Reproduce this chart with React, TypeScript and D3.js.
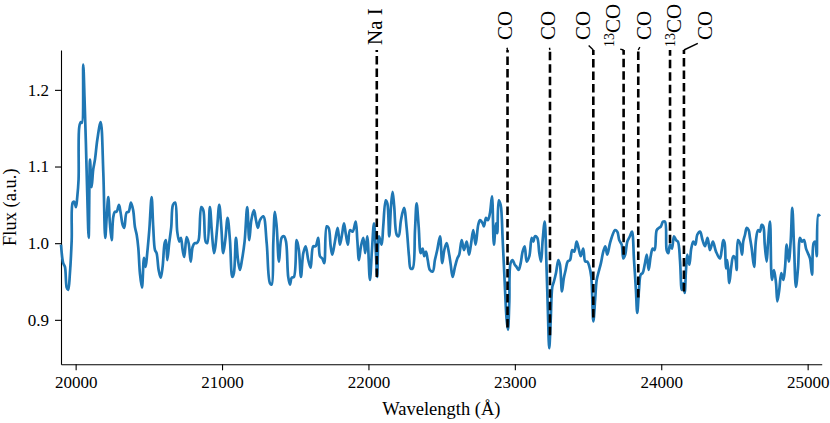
import React, { useEffect, useRef } from 'react';
import * as d3 from 'd3';

// Spectrum: [wavelength (Å), normalised flux]
const spectrum: [number, number][] = [
  [19900, 0.998], [19915, 0.974], [19927, 0.969], [19939, 0.942], [19949, 0.939], [19961, 0.961],
  [19973, 1.004], [19980, 1.053], [19990, 1.054], [20002, 1.047], [20011, 1.060], [20020, 1.083],
  [20025, 1.152], [20036, 1.158], [20043, 1.157], [20052, 1.233], [20061, 1.187], [20070, 1.131],
  [20079, 1.066], [20089, 1.007], [20098, 1.109], [20109, 1.073], [20120, 1.096], [20132, 1.109],
  [20148, 1.135], [20171, 1.158], [20189, 1.092], [20202, 1.007], [20212, 1.034], [20223, 1.060],
  [20234, 1.026], [20246, 1.004], [20257, 1.034], [20268, 1.041], [20280, 1.041], [20296, 1.050],
  [20307, 1.040], [20321, 1.024], [20332, 1.020], [20348, 1.040], [20362, 1.041], [20378, 1.053],
  [20393, 1.043], [20405, 1.021], [20417, 1.011], [20428, 0.994], [20439, 0.961], [20453, 0.942],
  [20467, 0.981], [20478, 0.969], [20489, 0.987], [20503, 1.017], [20519, 1.060], [20530, 1.021],
  [20542, 0.991], [20553, 0.987], [20567, 0.965], [20581, 0.955], [20594, 0.969], [20608, 1.000],
  [20617, 1.004], [20626, 0.978], [20639, 1.000], [20653, 1.021], [20665, 1.050], [20680, 1.053],
  [20694, 1.015], [20708, 1.002], [20719, 1.007], [20731, 0.991], [20742, 0.982], [20758, 1.008],
  [20772, 1.000], [20786, 0.976], [20799, 0.995], [20813, 1.000], [20827, 1.000], [20840, 1.004],
  [20858, 1.047], [20872, 1.043], [20888, 1.002], [20899, 1.000], [20917, 1.047], [20931, 1.013],
  [20945, 0.987], [20954, 0.995], [20967, 1.021], [20981, 1.050], [20995, 1.021], [21008, 0.987],
  [21022, 1.004], [21038, 1.033], [21054, 1.004], [21070, 0.956], [21081, 0.961], [21095, 1.007],
  [21109, 0.978], [21122, 0.965], [21136, 0.978], [21154, 1.002], [21172, 1.047], [21186, 1.004],
  [21200, 1.030], [21218, 1.043], [21232, 1.030], [21245, 1.020],
  [21259, 1.030], [21282, 1.035], [21305, 1.000], [21327, 0.948], [21339, 0.946], [21350, 1.000],
  [21361, 1.041], [21373, 1.022], [21389, 0.976], [21407, 1.007], [21423, 1.009], [21437, 1.002],
  [21452, 0.956], [21464, 0.946], [21476, 0.955], [21491, 0.956], [21510, 1.004], [21525, 0.991],
  [21539, 0.956], [21555, 0.987], [21571, 0.996], [21589, 0.978], [21605, 0.968], [21623, 0.996],
  [21639, 0.996], [21657, 1.007], [21669, 0.983], [21685, 0.980], [21698, 0.974], [21715, 1.022],
  [21728, 1.020], [21742, 0.996], [21753, 0.985], [21771, 1.002], [21790, 1.020], [21805, 0.998],
  [21821, 1.013], [21833, 1.026], [21846, 1.011], [21860, 0.998], [21874, 1.017], [21892, 1.015],
  [21913, 1.028], [21924, 1.004], [21935, 0.978], [21949, 0.996], [21965, 1.007], [21978, 0.987],
  [21992, 1.009], [22010, 0.952], [22024, 0.991], [22038, 1.026], [22051, 0.987], [22060, 0.956],
  [22072, 1.009], [22090, 0.998], [22101, 1.022], [22118, 1.056], [22129, 1.052], [22142, 1.009],
  [22154, 1.048], [22165, 1.067], [22176, 1.048], [22193, 1.011], [22206, 1.009], [22222, 1.030],
  [22243, 1.046], [22261, 1.020], [22277, 0.983], [22288, 0.967], [22302, 0.967], [22318, 1.017],
  [22329, 1.052], [22343, 1.022], [22357, 0.987], [22370, 0.993], [22381, 0.983], [22393, 0.989],
  [22405, 0.978], [22420, 0.965], [22439, 0.963], [22454, 0.978], [22470, 0.991], [22489, 1.009],
  [22504, 0.974], [22518, 0.991], [22534, 1.000], [22550, 0.987], [22562, 0.972], [22575, 0.956],
  [22591, 0.969], [22607, 0.980], [22620, 0.985], [22637, 1.004], [22653, 0.991], [22671, 1.002],
  [22687, 0.985], [22700, 0.998], [22716, 1.017], [22732, 0.998], [22750, 1.024],
  [22762, 1.030], [22780, 1.026], [22789, 1.022], [22803, 1.033], [22816, 1.030], [22830, 1.039],
  [22844, 1.061], [22857, 0.998], [22871, 1.026], [22880, 1.013], [22890, 1.056], [22903, 1.050],
  [22917, 1.004], [22933, 0.939], [22944, 0.900], [22953, 0.887], [22962, 0.922], [22971, 0.974],
  [22985, 0.978], [22999, 0.972], [23012, 0.969], [23026, 0.965], [23040, 0.974], [23053, 0.989],
  [23067, 0.996], [23081, 0.976], [23099, 0.983], [23115, 1.007], [23126, 1.002], [23137, 1.009],
  [23153, 1.007], [23167, 0.987], [23179, 0.976], [23190, 1.004], [23204, 1.028], [23215, 0.978],
  [23226, 0.909], [23235, 0.863], [23245, 0.900], [23256, 0.943], [23267, 0.950], [23281, 0.961],
  [23297, 0.978], [23308, 0.972], [23322, 0.937], [23334, 0.954], [23347, 0.965], [23361, 0.976],
  [23377, 0.978], [23392, 0.991], [23406, 0.989], [23422, 1.002], [23436, 0.993], [23450, 0.983],
  [23467, 0.993], [23481, 0.976], [23495, 0.976], [23508, 0.970], [23522, 0.956], [23536, 0.898],
  [23549, 0.928], [23559, 0.952], [23573, 0.963], [23588, 0.974], [23604, 0.989], [23618, 0.996],
  [23631, 0.985], [23650, 1.000], [23668, 1.011], [23684, 1.017], [23700, 1.015], [23713, 1.004],
  [23730, 0.998], [23741, 0.980], [23754, 0.985], [23768, 1.002], [23786, 1.009], [23800, 1.015],
  [23814, 0.978], [23827, 0.939], [23836, 0.909], [23848, 0.939], [23860, 0.959], [23873, 0.961],
  [23887, 0.972], [23901, 0.985], [23914, 0.965], [23928, 0.983], [23942, 0.993], [23955, 0.991],
  [23969, 1.017], [23985, 1.020], [23998, 1.022], [24012, 1.028], [24026, 1.028], [24037, 0.991],
  [24048, 0.987], [24060, 0.998], [24073, 0.993], [24087, 1.009], [24101, 1.004], [24114, 1.002],
  [24128, 0.978], [24140, 0.939], [24151, 0.948], [24160, 0.935], [24169, 0.965], [24178, 0.985],
  [24192, 0.972], [24205, 0.993], [24219, 1.002], [24233, 0.998], [24246, 1.011], [24265, 1.015],
  [24282, 1.004], [24299, 0.996], [24316, 1.007], [24333, 0.991], [24353, 1.002], [24374, 0.989],
  [24401, 0.980], [24413, 0.991], [24424, 1.004], [24433, 1.000], [24442, 0.967], [24451, 0.978],
  [24465, 0.948], [24478, 0.969], [24492, 0.983], [24506, 0.980], [24515, 0.965], [24524, 1.004],
  [24538, 1.000], [24552, 0.985], [24560, 1.002], [24572, 1.011], [24584, 1.020], [24597, 1.017],
  [24606, 1.007], [24618, 0.993], [24634, 0.969], [24647, 1.004], [24661, 1.017], [24674, 1.015],
  [24686, 1.024], [24697, 1.022], [24707, 0.998], [24720, 0.976], [24729, 1.000], [24743, 1.028],
  [24756, 0.952], [24770, 0.965], [24784, 0.948], [24793, 0.924], [24806, 0.939], [24820, 0.961],
  [24834, 0.952], [24845, 0.967], [24857, 0.998], [24871, 0.976], [24884, 1.002], [24895, 1.046],
  [24907, 0.996], [24920, 0.943], [24934, 0.967], [24948, 1.007], [24961, 1.002], [24975, 1.004],
  [24989, 0.993], [25002, 0.987], [25016, 0.980], [25030, 0.959], [25041, 1.000], [25052, 1.002],
  [25062, 0.983], [25073, 1.037], [25084, 1.035],
];

// Identified absorption features
const lineNames = ['Na I', 'CO', 'CO', 'CO', 'CO', 'CO', 'CO', 'CO'];
const lineIsotopes = ['', '', '', '', '13', '', '13', ''];
const lineWavelengths = [22057, 22950, 23240, 23536, 23743, 23843, 24060, 24155];
const lineFlux = [0.956, 0.890, 0.880, 0.903, 0.985, 0.929, 1.0, 0.937];
const labelWavelengths = [22045, 22933, 23223, 23465, 23667, 23879, 24087, 24299];

const xTicks = [20000, 21000, 22000, 23000, 24000, 25000];
const yTicks = [0.9, 1.0, 1.1, 1.2];

const W = 830;
const H = 423;
const FONT = "'Liberation Serif', 'Times New Roman', serif";

function App() {
  const svgRef = useRef<SVGSVGElement>(null);

  useEffect(() => {
    if (!svgRef.current) return;
    const svg = d3.select(svgRef.current);
    svg.selectAll('*').remove();

    const margin = { top: 50, right: 8.3, bottom: 58.7, left: 61 };

    const x = d3.scaleLinear().domain([19900, 25096]).range([margin.left, W - margin.right]);
    const y = d3.scaleLinear().domain([0.842, 1.252]).range([H - margin.bottom, margin.top]);

    // axes (left + bottom spines only)
    const xAxis = svg
      .append('g')
      .attr('transform', `translate(0,${H - margin.bottom})`)
      .call(
        d3.axisBottom(x).tickValues(xTicks).tickSize(6).tickSizeOuter(0).tickPadding(6).tickFormat(d3.format('d'))
      );
    const yAxis = svg
      .append('g')
      .attr('transform', `translate(${margin.left},0)`)
      .call(
        d3.axisLeft(y).tickValues(yTicks).tickSize(6).tickSizeOuter(0).tickPadding(6).tickFormat(d3.format('.1f'))
      );

    [xAxis, yAxis].forEach((g) => {
      g.attr('font-family', FONT).attr('font-size', 17);
      g.select('.domain').attr('stroke', '#000').attr('stroke-width', 1.1);
      g.selectAll('.tick line').attr('stroke', '#000').attr('stroke-width', 1.1);
      g.selectAll('.tick text').attr('fill', '#000');
    });

    // axis titles
    svg
      .append('text')
      .attr('x', (margin.left + W - margin.right) / 2)
      .attr('y', 415)
      .attr('text-anchor', 'middle')
      .attr('font-family', FONT)
      .attr('font-size', 18.5)
      .text('Wavelength (Å)');

    svg
      .append('text')
      .attr('transform', `translate(16,${(margin.top + H - margin.bottom) / 2}) rotate(-90)`)
      .attr('text-anchor', 'middle')
      .attr('font-family', FONT)
      .attr('font-size', 18.5)
      .text('Flux (a.u.)');

    // spectrum
    const line = d3
      .line<[number, number]>()
      .x((d) => x(d[0]))
      .y((d) => y(d[1]))
      .curve(d3.curveCatmullRom.alpha(0.5));

    svg
      .append('path')
      .datum(spectrum)
      .attr('d', line)
      .attr('fill', 'none')
      .attr('stroke', '#1f77b4')
      .attr('stroke-width', 2.7)
      .attr('stroke-linejoin', 'round');

    // feature markers
    const yTop = y.range()[1];
    const labelBottom = [45, 40, 40, 40, 47, 40, 47, 40];

    lineWavelengths.forEach((wl, i) => {
      const px = x(wl);

      svg
        .append('line')
        .attr('x1', px)
        .attr('x2', px)
        .attr('y1', y(lineFlux[i]))
        .attr('y2', yTop)
        .attr('stroke', '#000')
        .attr('stroke-width', 2.6)
        .attr('stroke-dasharray', '8.5,4');

      const lx = x(labelWavelengths[i]);
      const ly = labelBottom[i];

      // connector from label to marker top
      const dx = px - lx;
      const dy = yTop - ly;
      const len = Math.hypot(dx, dy);
      const shrink = 8;
      if (len > shrink + 1) {
        svg
          .append('line')
          .attr('x1', lx + (dx * shrink) / len)
          .attr('y1', ly + (dy * shrink) / len)
          .attr('x2', px)
          .attr('y2', yTop)
          .attr('stroke', '#000')
          .attr('stroke-width', 1.4);
      }

      const label = svg
        .append('text')
        .attr('x', lx)
        .attr('y', ly)
        .attr('transform', `rotate(-90,${lx},${ly})`)
        .attr('text-anchor', 'start')
        .attr('font-family', FONT)
        .attr('font-size', 21)
        .attr('fill', '#000');

      if (lineIsotopes[i]) {
        label.append('tspan').attr('font-size', 14).attr('dy', 1.35).text(lineIsotopes[i]);
        label.append('tspan').attr('dy', 6).text(lineNames[i]);
      } else {
        label.attr('dy', '0.35em').text(lineNames[i]);
      }
    });
  }, []);

  return (
    <svg
      ref={svgRef}
      width={W}
      height={H}
      style={{ position: 'absolute', left: 0, top: 0, background: '#fff' }}
    />
  );
}

export default App;
